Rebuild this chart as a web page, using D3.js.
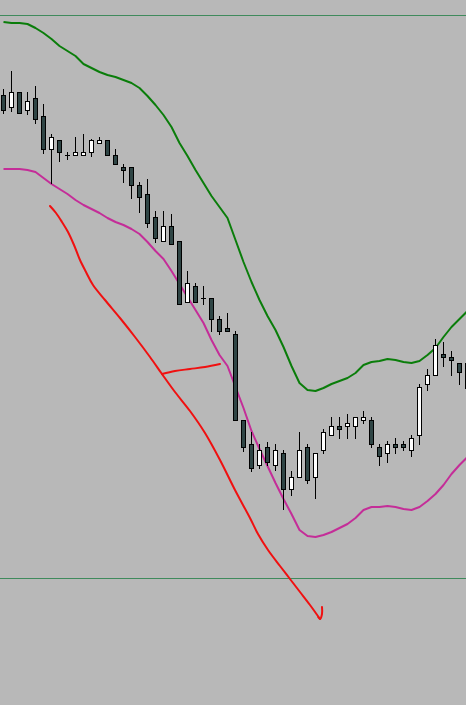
<!DOCTYPE html>
<html>
<head>
<meta charset="utf-8">
<script src="https://cdn.jsdelivr.net/npm/d3@7"></script>
<style>
html,body{margin:0;padding:0;background:#b8b8b8;}
svg{display:block;}
</style>
</head>
<body>
<div id="chart"></div>
<script>
// ---- data (bar index 0..58, prices) ----
const bars = d3.range(59);
const open  = [1.3520,1.3508,1.3523,1.3505,1.3517,1.3499,1.3466,1.3475,1.3460,1.3460,1.3460,1.3463,1.3472,1.3475,1.3460,1.3448,1.3448,1.3430,1.3421,1.3398,1.3374,1.3389,1.3374,1.3313,1.3329,1.3317,1.3317,1.3296,1.3287,1.3281,1.3195,1.3171,1.3150,1.3168,1.3150,1.3162,1.3126,1.3138,1.3168,1.3138,1.3165,1.3180,1.3189,1.3189,1.3189,1.3195,1.3195,1.3168,1.3162,1.3171,1.3171,1.3165,1.3180,1.3231,1.3240,1.3261,1.3258,1.3252,1.3252];
const high  = [1.3526,1.3544,1.3523,1.3523,1.3529,1.3511,1.3481,1.3475,1.3463,1.3478,1.3481,1.3476,1.3478,1.3475,1.3466,1.3451,1.3448,1.3433,1.3436,1.3404,1.3404,1.3401,1.3374,1.3344,1.3332,1.3329,1.3317,1.3299,1.3302,1.3284,1.3195,1.3183,1.3171,1.3173,1.3171,1.3165,1.3144,1.3183,1.3171,1.3162,1.3186,1.3198,1.3198,1.3201,1.3198,1.3204,1.3198,1.3171,1.3174,1.3177,1.3174,1.3180,1.3231,1.3246,1.3276,1.3273,1.3264,1.3252,1.3252];
const low   = [1.3502,1.3504,1.3502,1.3501,1.3492,1.3462,1.3432,1.3454,1.3456,1.3460,1.3460,1.3459,1.3472,1.3460,1.3451,1.3433,1.3417,1.3403,1.3388,1.3373,1.3374,1.3371,1.3311,1.3313,1.3313,1.3311,1.3284,1.3281,1.3284,1.3195,1.3164,1.3144,1.3147,1.3150,1.3145,1.3106,1.3120,1.3138,1.3132,1.3117,1.3162,1.3180,1.3177,1.3177,1.3177,1.3192,1.3168,1.3150,1.3153,1.3162,1.3165,1.3159,1.3171,1.3225,1.3240,1.3249,1.3240,1.3231,1.3227];
const close = [1.3505,1.3523,1.3502,1.3514,1.3496,1.3466,1.3478,1.3463,1.3460,1.3463,1.3463,1.3475,1.3475,1.3460,1.3451,1.3445,1.3430,1.3418,1.3392,1.3377,1.3389,1.3371,1.3311,1.3332,1.3313,1.3317,1.3296,1.3284,1.3284,1.3195,1.3168,1.3147,1.3165,1.3153,1.3165,1.3126,1.3138,1.3165,1.3135,1.3162,1.3183,1.3189,1.3186,1.3192,1.3198,1.3198,1.3171,1.3159,1.3171,1.3168,1.3168,1.3177,1.3228,1.3240,1.3270,1.3258,1.3255,1.3243,1.3227];
const upperBand = [1.3593,1.3592,1.3592,1.3591,1.3587,1.3582,1.3576,1.3569,1.3564,1.3559,1.3551,1.3547,1.3543,1.3540,1.3538,1.3535,1.3532,1.3527,1.3519,1.3510,1.3500,1.3488,1.3472,1.3459,1.3445,1.3432,1.3419,1.3408,1.3397,1.3375,1.3353,1.3333,1.3315,1.3299,1.3285,1.3268,1.3249,1.3232,1.3225,1.3224,1.3227,1.3231,1.3234,1.3237,1.3242,1.3250,1.3253,1.3254,1.3256,1.3255,1.3253,1.3252,1.3254,1.3260,1.3267,1.3278,1.3288,1.3296,1.3304];
const lowerBand = [1.3446,1.3446,1.3446,1.3445,1.3443,1.3437,1.3431,1.3426,1.3421,1.3415,1.3410,1.3406,1.3402,1.3397,1.3393,1.3390,1.3386,1.3381,1.3373,1.3364,1.3356,1.3344,1.3331,1.3318,1.3305,1.3292,1.3275,1.3260,1.3249,1.3228,1.3207,1.3184,1.3166,1.3149,1.3132,1.3116,1.3101,1.3085,1.3079,1.3078,1.3080,1.3083,1.3087,1.3091,1.3097,1.3105,1.3108,1.3108,1.3109,1.3108,1.3106,1.3105,1.3108,1.3114,1.3121,1.3130,1.3141,1.3150,1.3158];
const levels = [1.3600, 1.3037];
// hand-drawn red annotation: [bar index, price]
const arrowMain = [[5.875,1.3409],[6.625,1.3402],[7.375,1.3393],[8.125,1.3383],[8.875,1.3370],[9.625,1.3355],[10.375,1.3343],[11.25,1.3330],[12.75,1.3315],[14.625,1.3297],[16.5,1.3278],[18.375,1.3258],[19.875,1.3241],[21.5,1.3223],[23.375,1.3204],[25.25,1.3182],[27.125,1.3155],[29,1.3125],[30.875,1.3097],[31.875,1.3081],[33.125,1.3065],[34.625,1.3049],[35.875,1.3036],[37.125,1.3023],[38.375,1.3010],[39.625,1.2996]];
const arrowHook = [[39.4,1.2998],[39.625,1.2996],[39.875,1.3001],[39.875,1.3008]];
const arrowBranch = [[19.875,1.3241],[21.5,1.3244],[23.375,1.3246],[25.25,1.3248],[27.125,1.3251]];

// ---- drawing ----
const W = 466, H = 705;
const x = d3.scaleLinear().domain([0, 58]).range([3, 467]);
const y = d3.scaleLinear().domain([1.3615, 1.2910]).range([0, 705]);

const svg = d3.select("#chart").append("svg").attr("width", W).attr("height", H);
svg.append("rect").attr("width", W).attr("height", H).attr("fill", "#b8b8b8");

// level lines
svg.selectAll("line.level").data(levels).enter().append("line")
  .attr("class","level")
  .attr("x1",0).attr("x2",W)
  .attr("y1",d=>Math.round(y(d))+0.5).attr("y2",d=>Math.round(y(d))+0.5)
  .attr("stroke","#3f8a5c").attr("stroke-width",1);

// bands
const bandLine = arr => d3.line().x(i=>x(i)+0.5).y(i=>y(arr[i]))(bars);
svg.append("path").attr("d", bandLine(upperBand)).attr("fill","none")
  .attr("stroke","#0a7d0a").attr("stroke-width",2).attr("stroke-linejoin","round");
svg.append("path").attr("d", bandLine(lowerBand)).attr("fill","none")
  .attr("stroke","#c42d98").attr("stroke-width",2).attr("stroke-linejoin","round");

// candles
const g = svg.append("g");
bars.forEach(i => {
  const cx = Math.round(x(i));
  const o = open[i], c = close[i];
  g.append("line")
    .attr("x1",cx+0.5).attr("x2",cx+0.5)
    .attr("y1",Math.round(y(high[i]))).attr("y2",Math.round(y(low[i]))+1)
    .attr("stroke","#000").attr("stroke-width",1);
  const top = Math.round(y(Math.max(o,c))), bot = Math.round(y(Math.min(o,c)));
  if (bot - top < 1) {
    g.append("line").attr("x1",cx-2).attr("x2",cx+3)
      .attr("y1",top+0.5).attr("y2",top+0.5)
      .attr("stroke","#000").attr("stroke-width",1);
  } else {
    g.append("rect")
      .attr("x",cx-2+0.5).attr("y",top+0.5)
      .attr("width",4).attr("height",bot-top)
      .attr("fill", c < o ? "#2f4545" : "#ffffff")
      .attr("stroke","#000").attr("stroke-width",1);
  }
});

// red annotation
const red = d3.line().x(d=>x(d[0])).y(d=>y(d[1])).curve(d3.curveCatmullRom);
[arrowMain, arrowHook, arrowBranch].forEach(pts => {
  svg.append("path").attr("d", red(pts)).attr("fill","none")
    .attr("stroke","#f01010").attr("stroke-width",2)
    .attr("stroke-linecap","round").attr("stroke-linejoin","round");
});
</script>
</body>
</html>
